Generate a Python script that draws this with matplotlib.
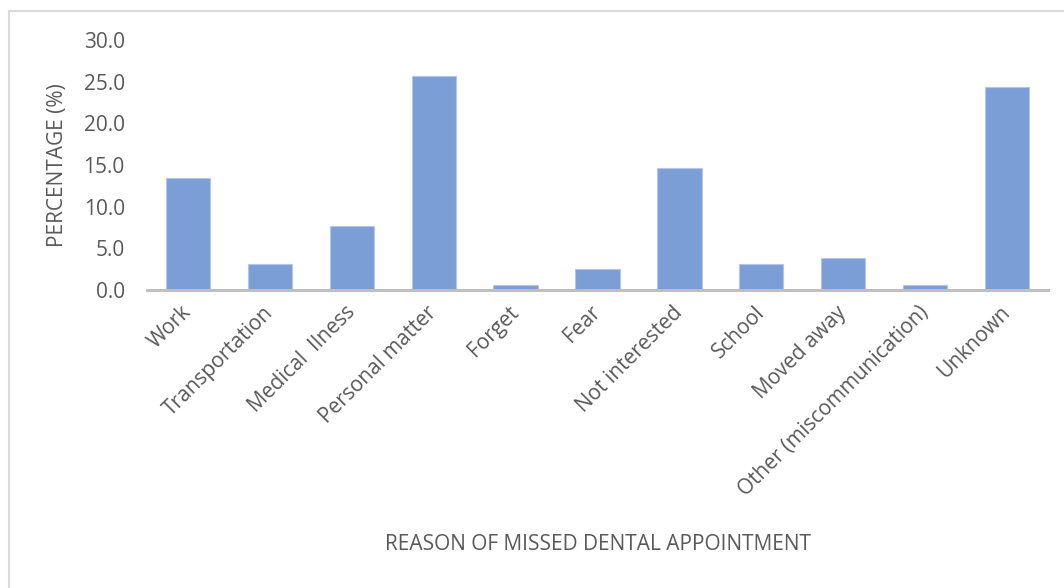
import matplotlib.pyplot as plt
from matplotlib.lines import Line2D

# values
reasons = ["Work", "Transportation", "Medical  Ilness", "Personal matter", "Forget",
           "Fear", "Not interested", "School", "Moved away",
           "Other (miscommunication)", "Unknown"]
percent = [13.4, 3.1, 7.7, 25.7, 0.6, 2.5, 14.7, 3.1, 3.9, 0.6, 24.4]
yticks = [0, 5, 10, 15, 20, 25, 30]

plt.rcParams['font.family'] = ['Open Sans', 'DejaVu Sans']
txt = '#595959'

fig = plt.figure(figsize=(10.64, 5.88), dpi=100)
ax = fig.add_axes([147/1064, 1-290/588, 901/1064, 250/588])

x = range(len(reasons))
ax.bar(x, percent, width=0.54, color='#7C9ED6', edgecolor='#B4C7EA', linewidth=0.8, zorder=2)

ax.set_xlim(-0.5, len(reasons)-0.5)
ax.set_ylim(0, 30)
ax.set_yticks(yticks)
ax.set_yticklabels([f"{v:.1f}" for v in yticks])
ax.set_xticks(list(x))
ax.set_xticklabels(reasons, rotation=45, ha='right', va='center', rotation_mode='anchor')

ax.tick_params(axis='y', length=0, pad=16, labelsize=15, labelcolor=txt)
ax.tick_params(axis='x', length=0, pad=14, labelsize=15, labelcolor=txt)
for s in ['top', 'right', 'left']:
    ax.spines[s].set_visible(False)
ax.spines['bottom'].set_color('#BFBFBF')
ax.spines['bottom'].set_linewidth(2.2)

fig.text(58/1064, 1-165/588, "PERCENTAGE (%)", rotation=90, ha='center', va='center',
         fontsize=15, color=txt)
fig.text(598/1064, 1-545/588, "REASON OF MISSED DENTAL APPOINTMENT", ha='center', va='center',
         fontsize=15, color=txt)

# chart frame (only left and top edges visible in the crop)
fig.add_artist(Line2D([9/1064, 9/1064], [0, 1-11/588], transform=fig.transFigure, color='#D9D9D9', lw=1.5))
fig.add_artist(Line2D([9/1064, 1], [1-11/588, 1-11/588], transform=fig.transFigure, color='#D9D9D9', lw=1.5))

fig.savefig('out.png', dpi=100)
